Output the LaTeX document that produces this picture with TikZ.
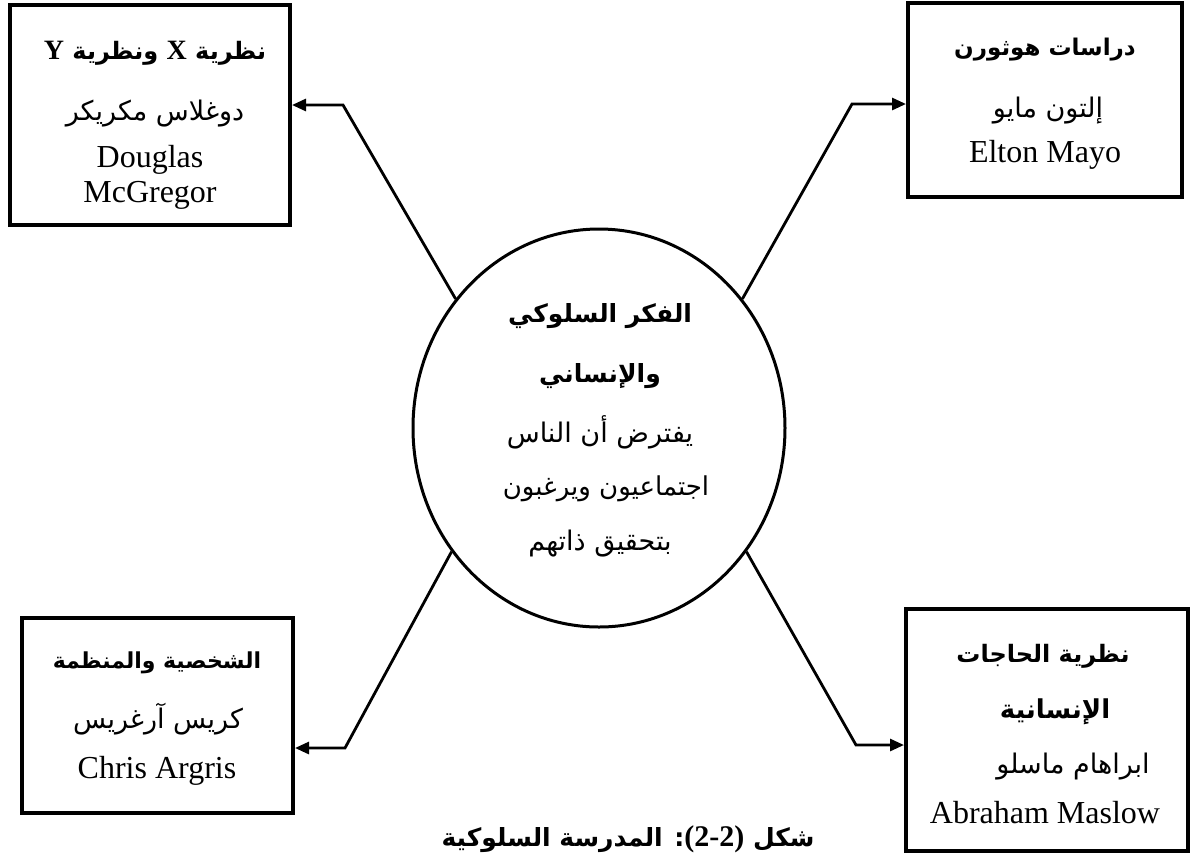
\documentclass[tikz,border=0pt]{standalone}
\usepackage{fontspec}
\setmainfont{Liberation Serif}
\newfontfamily\arabicfont[Script=Arabic]{DejaVu Sans}
\TeXXeTstate=1
\usetikzlibrary{shapes.geometric,arrows.meta}
\newcommand{\artxt}[1]{{\arabicfont\beginR #1\endR}}
\newcommand{\arbold}[1]{{\arabicfont\bfseries\beginR #1\endR}}
\newcommand{\latb}[1]{{\rmfamily\bfseries\fontsize{14}{16}\selectfont #1}}
\tikzset{
  box/.style={draw=black, line width=2pt, rectangle, inner sep=0pt},
  hub/.style={draw=black, line width=1.5pt, ellipse, inner sep=0pt, minimum width=186pt, minimum height=199pt},
  conn/.style={draw=black, line width=1.4pt, line join=miter, -{Triangle[length=7pt,width=6pt]}},
  lbl/.style={anchor=base, inner sep=0pt},
  arh/.style={lbl, font=\fontsize{12}{14}\selectfont},
  arn/.style={lbl, font=\fontsize{13.5}{15}\selectfont},
  en/.style={lbl, font=\fontsize{16}{18}\selectfont},
}
\begin{document}
\begin{tikzpicture}[x=0.5pt,y=-0.5pt]
\useasboundingbox (0,0) rectangle (1190,853);
\clip (0,0) rectangle (1190,853);

% boxes
\node[box, minimum width=140pt, minimum height=110pt] (tl) at (150,115) {};
\node[box, minimum width=137pt, minimum height=97pt] (tr) at (1045,100) {};
\node[box, minimum width=135.5pt, minimum height=97.5pt] (bl) at (157.5,715.5) {};
\node[box, minimum width=141pt, minimum height=121pt] (br) at (1047,730) {};

% hub
\node[hub] (c) at (599,428) {};

% texts: top left
\node[arh] (tl1) at (155,59) {\arbold{نظرية \latb{X} ونظرية \latb{Y}}};
\node[arn] (tl2) at (155,120) {\artxt{دوغلاس مكريكر}};
\node[en] (tl3) at (150,167) {Douglas};
\node[en] (tl4) at (150,202) {McGregor};

% top right
\node[arh, font=\fontsize{11.5}{14}\selectfont] (tr1) at (1045,55) {\arbold{دراسات هوثورن}};
\node[arn] (tr2) at (1048,117) {\artxt{إلتون مايو}};
\node[en] (tr3) at (1045,162) {Elton Mayo};

% bottom left
\node[arh, font=\fontsize{11}{14}\selectfont] (bl1) at (157,668) {\arbold{الشخصية والمنظمة}};
\node[arn] (bl2) at (158,728) {\artxt{كريس آرغريس}};
\node[en] (bl3) at (157,778) {Chris Argris};

% bottom right
\node[arh] (br1) at (1043,662) {\arbold{نظرية الحاجات}};
\node[arh, font=\fontsize{13}{15}\selectfont] (br2) at (1055,718) {\arbold{الإنسانية}};
\node[arn] (br3) at (1073,773) {\artxt{ابراهام ماسلو}};
\node[en] (br4) at (1045,823) {Abraham Maslow};

% hub text
\node[arh, font=\fontsize{12.5}{15}\selectfont] (c1) at (600,322) {\arbold{الفكر السلوكي}};
\node[arh, font=\fontsize{12.5}{15}\selectfont] (c2) at (600,382) {\arbold{والإنساني}};
\node[arn] (c3) at (600,442) {\artxt{يفترض أن الناس}};
\node[arn, font=\fontsize{13}{15}\selectfont] (c4) at (606,495) {\artxt{اجتماعيون ويرغبون}};
\node[arn] (c5) at (600,550) {\artxt{بتحقيق ذاتهم}};

% caption (at the bottom edge, as in the reference)
\node[lbl, font=\fontsize{12.5}{16}\selectfont] (cap) at (628,846) {\arbold{شكل \beginL{\rmfamily\bfseries\fontsize{15}{18}\selectfont(2-2)}\endL: المدرسة السلوكية}};

% connectors
\coordinate (kUL) at (343,105);
\coordinate (kUR) at (852,104);
\coordinate (kLL) at (345,748);
\coordinate (kLR) at (856,745);
\draw[conn] (c.138) -- (kUL) -- (kUL -| tl.east);
\draw[conn] (c.42) -- (kUR) -- (kUR -| tr.west);
\draw[conn] (c.220) -- (kLL) -- (kLL -| bl.east);
\draw[conn] (c.320) -- (kLR) -- (kLR -| br.west);
\end{tikzpicture}
\end{document}
